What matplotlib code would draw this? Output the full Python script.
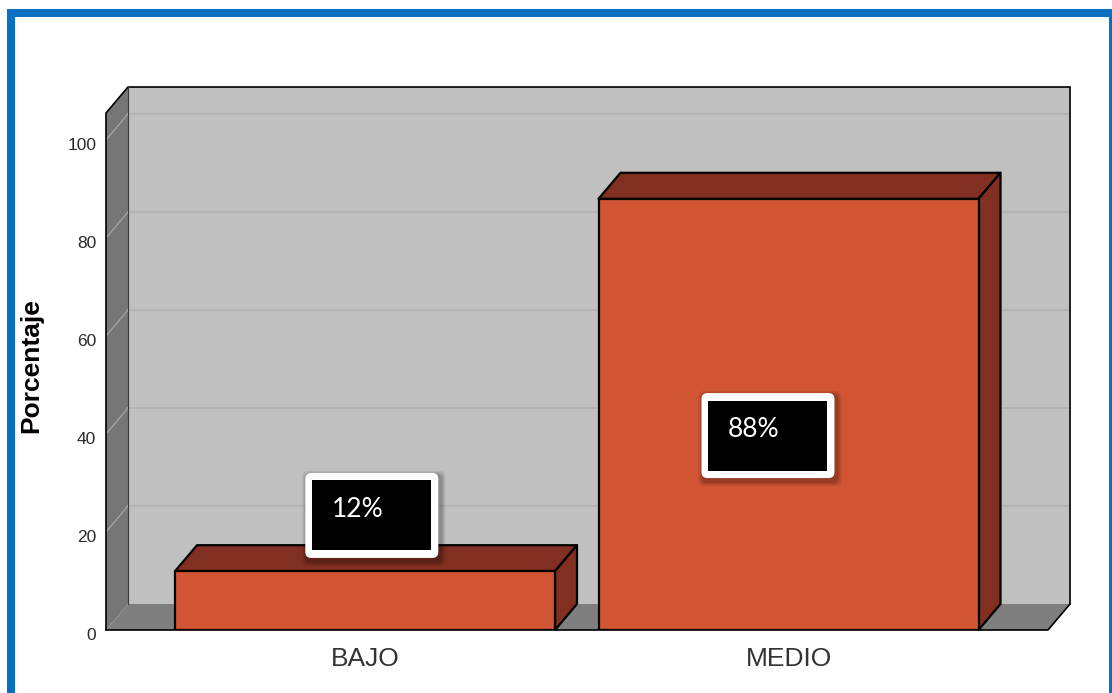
import matplotlib
matplotlib.use("Agg")
import matplotlib.pyplot as plt
from matplotlib.patches import Polygon, Rectangle, FancyBboxPatch
from matplotlib.transforms import ScaledTranslation

# ---- data ----
categories = ["BAJO", "MEDIO"]
values = [12, 88]
value_labels = ["12%", "88%"]
y_ticks = [0, 20, 40, 60, 80, 100]
y_label = "Porcentaje"

# ---- layout (positions/styles) ----
W, H = 1112, 693
DPI = 100
fig = plt.figure(figsize=(W / DPI, H / DPI), dpi=DPI)
fig.patch.set_facecolor("white")

ax_left, ax_right, ax_bottom, ax_top = 106, 1048, 630, 113
ax = fig.add_axes([ax_left / W, (H - ax_bottom) / H,
                   (ax_right - ax_left) / W, (ax_bottom - ax_top) / H])
px_per_y = 4.9
px_per_x = 423.5
xmin = -(365 - ax_left) / px_per_x
xmax = 1 + (ax_right - 788.5) / px_per_x
ytop = (ax_bottom - ax_top) / px_per_y
ax.set_xlim(xmin, xmax)
ax.set_ylim(0, ytop)
ax.patch.set_visible(False)
for s in ax.spines.values():
    s.set_visible(False)

ddx = 22 / px_per_x
ddy = 26 / px_per_y

wall_back = "#c0c0c0"
wall_side = "#767676"
floor_col = "#7f7f7f"
edge = "black"

# back wall
ax.add_patch(Polygon([(xmin + ddx, ddy), (xmax + ddx, ddy), (xmax + ddx, ytop + ddy),
                      (xmin + ddx, ytop + ddy)], closed=True, fc=wall_back, ec="none",
                     clip_on=False, zorder=1))
# left wall
ax.add_patch(Polygon([(xmin, 0), (xmin, ytop), (xmin + ddx, ytop + ddy), (xmin + ddx, ddy)],
                     closed=True, fc=wall_side, ec="none", clip_on=False, zorder=1))
# floor
ax.add_patch(Polygon([(xmin, 0), (xmax, 0), (xmax + ddx, ddy), (xmin + ddx, ddy)],
                     closed=True, fc=floor_col, ec="none", clip_on=False, zorder=1))

# gridlines
for v in y_ticks[1:]:
    ax.plot([xmin, xmin + ddx], [v, v + ddy], color="#a2a2a2", lw=1, clip_on=False, zorder=2)
    ax.plot([xmin + ddx, xmax + ddx], [v + ddy, v + ddy], color="#b1b1b1", lw=1.2,
            clip_on=False, zorder=2)

# wall outlines
elw = 1.2
ax.plot([xmin, xmin, xmin + ddx, xmax + ddx, xmax + ddx], [0, ytop, ytop + ddy, ytop + ddy, ddy],
        color=edge, lw=elw, clip_on=False, zorder=3, solid_joinstyle="miter")
ax.plot([xmin + ddx, xmin + ddx], [ddy, ytop + ddy], color="#3a3a3a", lw=0.8, clip_on=False, zorder=3)
ax.plot([xmin, xmax, xmax + ddx], [0, 0, ddy], color=edge, lw=elw, clip_on=False, zorder=3)

# bars
bar_w = 380 / px_per_x
front_col = "#d15433"
dark_col = "#812f20"
xs = list(range(len(categories)))
ax.bar(xs, values, width=bar_w, color=front_col, edgecolor=edge, linewidth=1.6, zorder=5)
for x, v in zip(xs, values):
    l, r = x - bar_w / 2, x + bar_w / 2
    ax.add_patch(Polygon([(l, v), (r, v), (r + ddx, v + ddy), (l + ddx, v + ddy)], closed=True,
                         fc=dark_col, ec=edge, lw=1.6, zorder=4, clip_on=False,
                         joinstyle="round"))
    ax.add_patch(Polygon([(r, 0), (r + ddx, ddy), (r + ddx, v + ddy), (r, v)], closed=True,
                         fc=dark_col, ec=edge, lw=1.6, zorder=4, clip_on=False,
                         joinstyle="round"))

# ticks
ax.set_yticks(y_ticks)
ax.set_yticklabels([str(t) for t in y_ticks], fontsize=12.5, color="#2a2a2a",
                   family="Liberation Sans")
ax.tick_params(axis="y", length=0, pad=7)
shift = ScaledTranslation(0, -4 / DPI, fig.dpi_scale_trans)
for lab in ax.get_yticklabels():
    lab.set_transform(lab.get_transform() + shift)
ax.set_xticks(xs)
ax.set_xticklabels(categories, fontsize=19, color="#333333", family="Liberation Sans")
ax.tick_params(axis="x", length=0, pad=12)

fig.text(31 / W, 1 - 366 / H, y_label, rotation=90, ha="center", va="center",
         fontsize=19, fontweight="bold", family="Liberation Sans", color="black")

# value label boxes
label_pos = [(-0.017, 24.6), (0.9185, 40.9)]
for (lx, ly), txt in zip(label_pos, value_labels):
    off = fig.dpi_scale_trans + ScaledTranslation(lx, ly, ax.transData)
    cx, cy = 0.14, -0.06  # box center offset from text center (inches)
    # shadow
    for k, a in [(0.05, 0.08), (0.035, 0.10), (0.02, 0.12)]:
        ax.add_patch(FancyBboxPatch((cx - 0.665 + 0.02, cy - 0.425 - 0.03), 1.33, 0.85,
                                    boxstyle=f"round,pad={k},rounding_size=0.06",
                                    fc="black", ec="none", alpha=a, transform=off,
                                    zorder=8, clip_on=False))
    ax.add_patch(FancyBboxPatch((cx - 0.665, cy - 0.425), 1.33, 0.85,
                                boxstyle="round,pad=0,rounding_size=0.06",
                                fc="white", ec="none", transform=off, zorder=9, clip_on=False))
    ax.add_patch(Rectangle((cx - 0.595, cy - 0.35), 1.19, 0.70, fc="black", ec="none",
                           transform=off, zorder=10, clip_on=False))
    ax.text(lx, ly, txt, ha="center", va="center", fontsize=19, color="white",
            family="Lato", zorder=11)

# blue frame
fig.add_artist(Rectangle((11 / W, -20 / H), (1113 - 11) / W, (H - 13 + 20) / H,
                         transform=fig.transFigure, fill=False, ec="#0a70c2", lw=5.8,
                         clip_on=False, zorder=20))

fig.savefig("out.png", dpi=DPI)
